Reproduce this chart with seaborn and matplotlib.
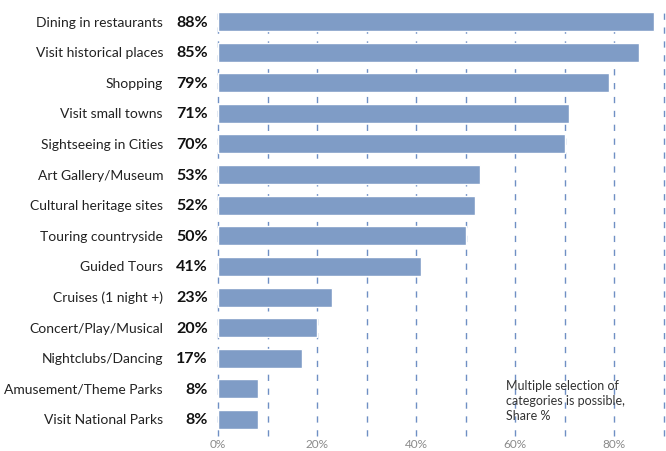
import matplotlib
matplotlib.use("Agg")
import matplotlib.pyplot as plt
import seaborn as sns
import pandas as pd

activities = [
    "Dining in restaurants", "Visit historical places", "Shopping",
    "Visit small towns", "Sightseeing in Cities", "Art Gallery/Museum",
    "Cultural heritage sites", "Touring countryside", "Guided Tours",
    "Cruises (1 night +)", "Concert/Play/Musical", "Nightclubs/Dancing",
    "Amusement/Theme Parks", "Visit National Parks",
]
shares = [88, 85, 79, 71, 70, 53, 52, 50, 41, 23, 20, 17, 8, 8]
x_ticks = [0, 20, 40, 60, 80]
x_tick_labels = ["0%", "20%", "40%", "60%", "80%"]

df = pd.DataFrame({"activity": activities, "share": shares})

sns.set_theme(style="white")
plt.rcParams["font.family"] = ["Lato", "DejaVu Sans"]

W, H = 666, 452
fig = plt.figure(figsize=(W / 100, H / 100), dpi=100)
left_px, right_px, top_px, bottom_px = 218, 663.5, 7, 437
ax = fig.add_axes([left_px / W, 1 - bottom_px / H,
                   (right_px - left_px) / W, (bottom_px - top_px) / H])

bar_color = "#7f9cc6"
sns.barplot(data=df, x="share", y="activity", color=bar_color,
            saturation=1, width=0.62, ax=ax, orient="h", zorder=2)

ax.set_xlim(0, 90)
ax.set_ylim(13.54, -0.507)

# dashed vertical grid every 10 %
for g in range(0, 100, 10):
    ax.axvline(g, color="#6f8fc4", lw=1.0, ls=(0, (4.5, 5.5)), zorder=0,
               clip_on=False)

for s in ax.spines.values():
    s.set_visible(False)

ax.set_xticks(x_ticks)
ax.set_xticklabels(x_tick_labels, color="#8a8a8a", fontsize=8.5)
ax.tick_params(axis="x", length=0, pad=1.5)
ax.set_yticks([])
ax.set_xlabel("")
ax.set_ylabel("")

px_per_unit = (right_px - left_px) / 90.0
name_x = -(left_px - 163) / px_per_unit
value_x = -(left_px - 208) / px_per_unit

# category names and bold share values to the left of the bars
for i, (name, val) in enumerate(zip(activities, shares)):
    ax.text(name_x, i, name, ha="right", va="center",
            fontsize=10, color="#222222", clip_on=False)
    ax.text(value_x, i, f"{val}%", ha="right", va="center",
            fontsize=11.5, fontweight="bold", color="#111111", clip_on=False)

fig.text(506 / W, 1 - 401 / H,
         "Multiple selection of\ncategories is possible,\nShare %",
         ha="left", va="center", fontsize=9, color="#333333",
         linespacing=1.3)

fig.savefig("out.png", dpi=100)
